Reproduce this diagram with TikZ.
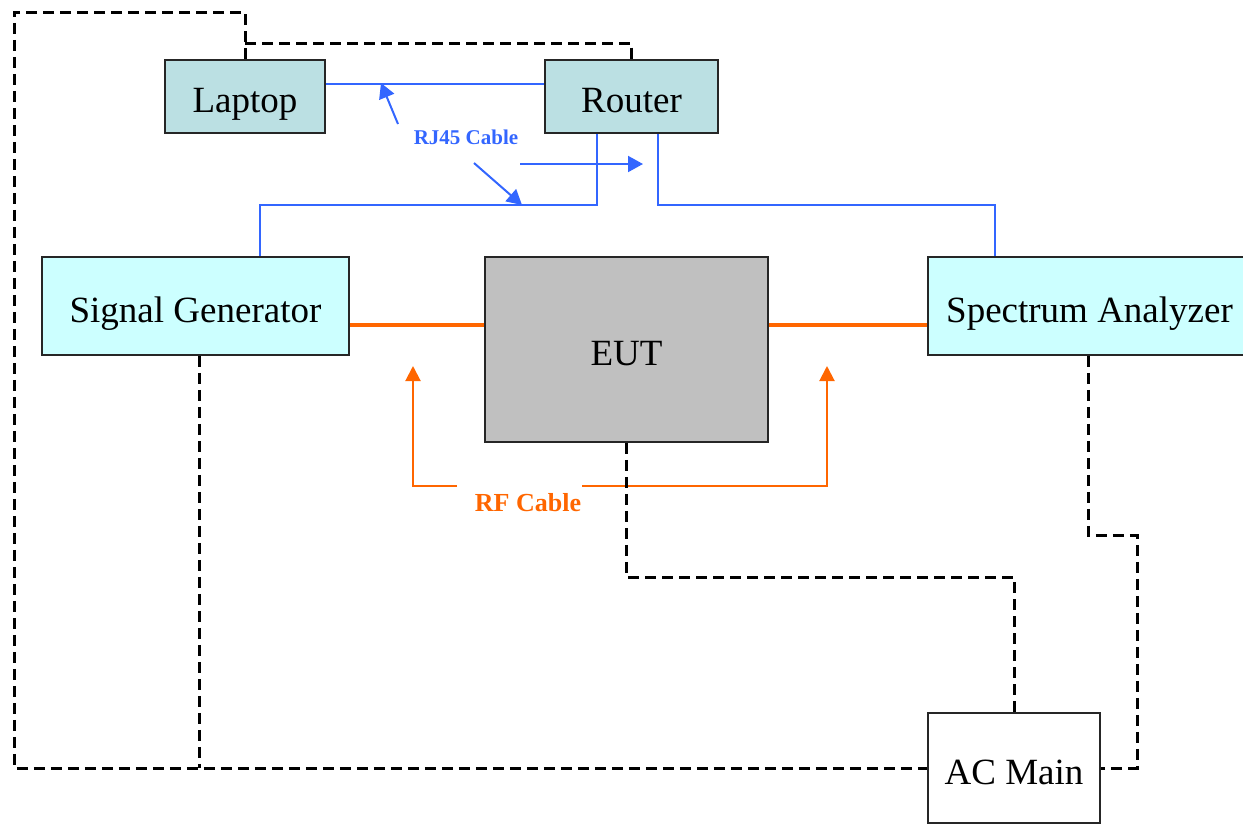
\documentclass[tikz,border=0pt]{standalone}
\usepackage{fontspec}
\setmainfont{Liberation Serif}
\usetikzlibrary{arrows.meta}
\definecolor{teal1}{HTML}{BBE0E3}
\definecolor{cyan1}{HTML}{CCFFFF}
\definecolor{grey1}{HTML}{C0C0C0}
\definecolor{rjblue}{HTML}{3366FF}
\definecolor{rforange}{HTML}{FF6600}
\tikzset{
  devbox/.style={draw=black!85, line width=1.6pt, inner sep=0pt, text height=32pt, text depth=0pt, font=\fontsize{37}{44}\selectfont},
  rj/.style={draw=rjblue, line width=2pt},
  rjarrow/.style={rj, -{Triangle[length=15pt,width=16pt]}},
  rfline/.style={draw=rforange, line width=4pt},
  rfarrow/.style={draw=rforange, line width=2pt, -{Triangle[length=15pt,width=15pt]}},
  pw/.style={draw=black, line width=3pt, dash pattern=on 11pt off 6pt},
}
\begin{document}
\begin{tikzpicture}[x=1pt,y=-1pt]
\useasboundingbox (0,0) rectangle (1243,825);
\node[devbox, fill=teal1, minimum width=160pt, minimum height=73pt] (laptop) at (245,96.5) {Laptop};
\node[devbox, fill=teal1, minimum width=173pt, minimum height=73pt] (router) at (631.5,96.5) {Router};
\node[devbox, fill=cyan1, minimum width=307pt, minimum height=98pt] (sg) at (195.5,306) {Signal Generator};
\node[devbox, fill=grey1, minimum width=283pt, minimum height=185pt] (eut) at (626.5,349.5) {EUT};
\node[devbox, fill=cyan1, minimum width=323pt, minimum height=98pt] (sa) at (1089.5,306) {Spectrum Analyzer};
\node[devbox, fill=white, minimum width=172pt, minimum height=110pt] (ac) at (1014,768) {AC Main};
% RJ45 cables
\draw[rj] (laptop.east |- 0,84) -- (router.west |- 0,84);
\draw[rj] (router.south -| 597,0) |- (260,205) -- (sg.north -| 260,0);
\draw[rj] (router.south -| 658,0) |- (995,205) -- (sa.north -| 995,0);
\node[text=rjblue, font=\bfseries\fontsize{21}{25}\selectfont] (rjlabel) at (466,137) {RJ45 Cable};
\coordinate (rja) at (398,124);
\coordinate (rjb) at (474,163);
\coordinate (rjc) at (520,164);
\draw[rjarrow] (rja) -- (381,83);
\draw[rjarrow] (rjb) -- (522,205);
\draw[rjarrow] (rjc) -- (643,164);
% RF cables
\draw[rfline] (sg.east |- 0,325) -- (eut.west |- 0,325);
\draw[rfline] (eut.east |- 0,325) -- (sa.west |- 0,325);
\node[text=rforange, font=\bfseries\fontsize{26}{31}\selectfont] (rflabel) at (528,503) {RF Cable};
\coordinate (rfa) at (457,486);
\coordinate (rfb) at (582,486);
\draw[rfarrow] (rfa) -| (413,366);
\draw[rfarrow] (rfb) -| (827,366);
% power
\draw[pw] (laptop.north) -- (245,12) -| (14,768) -- (ac.west);
\draw[pw] (245,43) -| (router.north);
\draw[pw] (sg.south -| 199,0) -- (199,768);
\draw[pw] (eut.south) -- (626.5,577) -| (ac.north);
\draw[pw] (sa.south -| 1088,0) -- (1088,535) -| (1137,768) -- (ac.east);
\end{tikzpicture}
\end{document}
